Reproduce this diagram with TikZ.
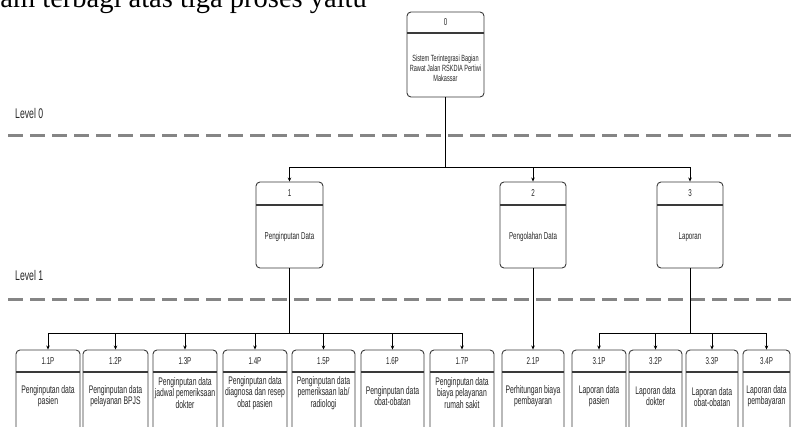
\documentclass[tikz,border=0pt]{standalone}
\usepackage{fontspec}
\usetikzlibrary{arrows.meta}
\newfontfamily\nar[FakeStretch=0.62]{Liberation Sans}
\newfontfamily\tms{Liberation Serif}
\definecolor{boxline}{HTML}{3A3A3A}
\definecolor{dashgray}{HTML}{858585}
\definecolor{txt}{HTML}{262626}
\newcommand{\pbox}[9]{%
  \node[procbox, minimum width={#3-#2}, minimum height={#6-#4}] (#1) at ({(#2+#3)/2},{(#4+#6)/2}) {};
  \draw[hdr] (#2,#5) -- (#3,#5);
  \node[numtxt] (#1n) at ({(#2+#3)/2},{(#4+#5)/2}) {#7};
  \node[bodytxt] (#1t) at ({(#2+#3)/2},#9) {#8};
}
\begin{document}
\begin{tikzpicture}[x=1pt,y=-1pt,
  procbox/.style={draw=boxline, line width=0.9pt, rounded corners=4pt, fill=white, inner sep=0pt},
  hdr/.style={draw=boxline, line width=1.1pt},
  numtxt/.style={font=\nar\fontsize{10}{11}\selectfont, text=txt, inner sep=0pt},
  bodytxt/.style={font=\nar\fontsize{11}{11.5}\selectfont, text=txt, align=center, inner sep=0pt},
  conn/.style={draw=black, line width=0.7pt},
  arr/.style={conn, -{Stealth[length=4pt,width=3.5pt]}},
  lvl/.style={font=\nar\fontsize{14}{16}\selectfont, text=txt, anchor=west, inner sep=0pt},
  lvldash/.style={draw=dashgray, line width=3pt, dash pattern=on 15pt off 7pt},
  toptxt/.style={font=\tms\fontsize{28.5}{31}\selectfont, text=black, inner sep=0pt, anchor=base east}
]
\useasboundingbox (0,0) rectangle (791,426);
\clip (0,0) rectangle (791,426);

% top text (cut off by the picture edge)
\node[toptxt] (w0) at (367,7.5) {diagram terbagi atas tiga proses yaitu};

% level labels and dashed separators
\node[lvl] (l0) at (15,113) {Level 0};
\node[lvl] (l1) at (15,275) {Level 1};
\draw[lvldash] (8,135) -- (791,135);
\draw[lvldash] (8,299) -- (791,299);

% level 0
\begin{scope}[bodytxt/.style={font=\nar\fontsize{9}{10}\selectfont, text=txt, align=center, inner sep=0pt}]
\pbox{b0}{407}{484}{12}{33}{97}{0}{Sistem Terintegrasi Bagian\\Rawat Jalan RSKDIA Pertiwi\\Makassar}{68}
\end{scope}

% level 1
\begin{scope}[bodytxt/.style={font=\nar\fontsize{10}{11}\selectfont, text=txt, align=center, inner sep=0pt}]
\pbox{b1}{256}{323}{182}{205}{268}{1}{Penginputan Data}{237}
\pbox{b2}{500}{566}{182}{205}{268}{2}{Pengolahan Data}{237}
\pbox{b3}{657}{723}{182}{205}{268}{3}{Laporan}{237}
\end{scope}

% level 2
\pbox{p11}{16}{80}{350}{372}{440}{1.1P}{Penginputan data\\pasien}{396}
\pbox{p12}{83}{148}{350}{372}{440}{1.2P}{Penginputan data\\pelayanan BPJS}{396}
\pbox{p13}{153}{217}{350}{372}{440}{1.3P}{Penginputan data\\jadwal pemeriksaan\\dokter}{393}
\pbox{p14}{223}{287}{350}{372}{440}{1.4P}{Penginputan data\\diagnosa dan resep\\obat pasien}{393}
\pbox{p15}{292}{355}{350}{372}{440}{1.5P}{Penginputan data\\pemeriksaan lab/\\radiologi}{393}
\pbox{p16}{361}{424}{350}{372}{440}{1.6P}{Penginputan data\\obat-obatan}{396}
\pbox{p17}{430}{494}{350}{372}{440}{1.7P}{Penginputan data\\biaya pelayanan\\rumah sakit}{393}
\pbox{p21}{502}{564}{350}{372}{440}{2.1P}{Perhitungan biaya\\pembayaran}{396}
\pbox{p31}{572}{626}{350}{372}{440}{3.1P}{Laporan data\\pasien}{396}
\pbox{p32}{629}{682}{350}{372}{440}{3.2P}{Laporan data\\dokter}{396}
\pbox{p33}{686}{738}{350}{372}{440}{3.3P}{Laporan data\\obat-obatan}{397}
\pbox{p34}{743}{790}{350}{372}{440}{3.4P}{Laporan data\\pembayaran}{396}

% connectors level 0 -> 1
\path (b0.south) ++(0,70) coordinate (j0);
\draw[conn] (b0.south) -- (j0);
\draw[conn] (j0 -| b1.north) -- (j0 -| b3.north);
\foreach \b in {b1,b2,b3} \draw[arr] (j0 -| \b.north) -- (\b.north);

% connectors level 1 -> 2
\path (b1.south) ++(0,65) coordinate (j1);
\draw[conn] (b1.south) -- (j1);
\draw[conn] (j1 -| p11.north) -- (j1 -| p17.north);
\foreach \p in {p11,p12,p13,p14,p15,p16,p17} \draw[arr] (j1 -| \p.north) -- (\p.north);

\draw[arr] (b2.south) -- (p21.north);

\path (b3.south) ++(0,65) coordinate (j3);
\draw[conn] (b3.south) -- (j3);
\draw[conn] (j3 -| p31.north) -- (j3 -| p34.north);
\foreach \p in {p31,p32,p33,p34} \draw[arr] (j3 -| \p.north) -- (\p.north);
\end{tikzpicture}
\end{document}
